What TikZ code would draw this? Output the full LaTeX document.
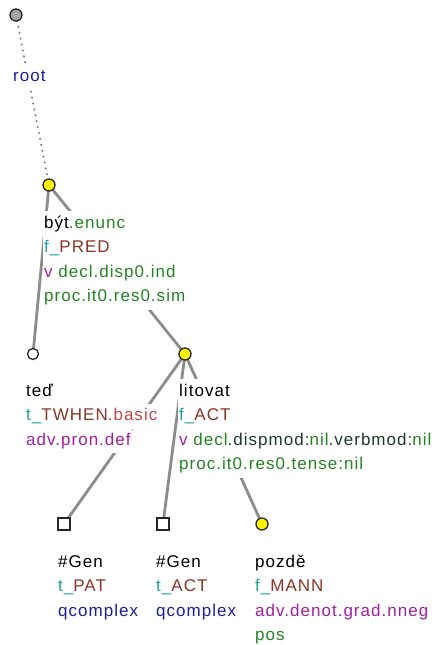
\documentclass[tikz,border=0pt]{standalone}
\usepackage{fontspec}
\setmainfont{Liberation Sans}[LetterSpace=6]
\setlength{\lineskiplimit}{-100pt}
\definecolor{cblue}{HTML}{1E1E9C}
\definecolor{cgreen}{HTML}{238423}
\definecolor{cteal}{HTML}{1FA0A0}
\definecolor{cbrown}{HTML}{8A3525}
\definecolor{clred}{HTML}{C04848}
\definecolor{cpurple}{HTML}{A020A0}
\definecolor{cdark}{HTML}{1E3A26}
\definecolor{cedge}{HTML}{8C8C8C}
\definecolor{cdot}{HTML}{7A7A7A}
\tikzset{
  edge/.style={draw=cedge, line width=2.8pt},
  rootedge/.style={draw=cdot, line width=2.3pt, dash pattern=on 0.01pt off 6pt, line cap=round},
  ynode/.style={circle, draw=black!85, fill=yellow, line width=1.3pt, minimum size=12pt, inner sep=0pt},
  wnode/.style={circle, draw=black!85, fill=white, line width=1.3pt, minimum size=11pt, inner sep=0pt},
  gnode/.style={circle, draw=black!85, fill=black!35, line width=1.3pt, minimum size=12pt, inner sep=0pt},
  snode/.style={rectangle, draw=black!85, fill=white, line width=1.3pt, minimum size=12pt, inner sep=0pt},
  lbl/.style={anchor=north west, align=left, inner sep=0pt,
    font=\fontsize{17}{24.5}\selectfont},
}
\newcommand{\wl}[1]{{\setlength{\fboxsep}{1pt}\colorbox{white}{\rule[-7pt]{0pt}{23pt}#1}}}
\begin{document}
\begin{tikzpicture}[x=1pt,y=-1pt]
\useasboundingbox (0,0) rectangle (440,645);
% tree nodes (coordinates)
\coordinate (rootc) at (16,15);
\coordinate (bytc) at (49,185);
\coordinate (tedc) at (33,354);
\coordinate (litc) at (185,354);
\coordinate (g1c) at (64,524);
\coordinate (g2c) at (163,524);
\coordinate (pozc) at (262,524);
% edges
\draw[rootedge] (rootc) -- (bytc);
\draw[edge] (bytc) -- (tedc);
\draw[edge] (bytc) -- (litc);
\draw[edge] (litc) -- (g1c);
\draw[edge] (litc) -- (g2c);
\draw[edge] (litc) -- (pozc);
% labels
\node[lbl] (rootl) at (12,64) {\wl{\textcolor{cblue}{root}}};
\node[lbl] (bytl) at (43,211) {\wl{být\textcolor{cgreen}{.enunc}}\\
  \wl{\textcolor{cteal}{f\_}\textcolor{cbrown}{PRED}}\\
  \wl{\textcolor{cpurple}{v} \textcolor{cgreen}{decl.disp0.ind}}\\
  \wl{\textcolor{cgreen}{proc.it0.res0.sim}}};
\node[lbl] (tedl) at (25,379) {\wl{teď}\\
  \wl{\textcolor{cteal}{t\_}\textcolor{cbrown}{TWHEN}\textcolor{clred}{.basic}}\\
  \wl{\textcolor{cpurple}{adv.pron.def}}};
\node[lbl] (litl) at (178,379) {\wl{litovat}\\
  \wl{\textcolor{cteal}{f\_}\textcolor{cbrown}{ACT}}\\
  \wl{\textcolor{cpurple}{v} \textcolor{cgreen}{decl}\textcolor{cdark}{.dispmod:}\textcolor{cgreen}{nil}\textcolor{cdark}{.verbmod:}\textcolor{cgreen}{nil}}\\
  \wl{\textcolor{cgreen}{proc.it0.res0.tense:nil}}};
\node[lbl] (g1l) at (57,550) {\wl{\#Gen}\\
  \wl{\textcolor{cteal}{t\_}\textcolor{cbrown}{PAT}}\\
  \wl{\textcolor{cblue}{qcomplex}}};
\node[lbl] (g2l) at (155,550) {\wl{\#Gen}\\
  \wl{\textcolor{cteal}{t\_}\textcolor{cbrown}{ACT}}\\
  \wl{\textcolor{cblue}{qcomplex}}};
\node[lbl] (pozl) at (254,550) {\wl{pozdě}\\
  \wl{\textcolor{cteal}{f\_}\textcolor{cbrown}{MANN}}\\
  \wl{\textcolor{cpurple}{adv.denot.grad.nneg}}\\
  \wl{\textcolor{cgreen}{pos}}};
% node markers
\node[gnode] (root) at (rootc) {};
\node[ynode] (byt) at (bytc) {};
\node[wnode] (ted) at (tedc) {};
\node[ynode] (lit) at (litc) {};
\node[snode] (g1) at (g1c) {};
\node[snode] (g2) at (g2c) {};
\node[ynode] (poz) at (pozc) {};
\end{tikzpicture}
\end{document}
